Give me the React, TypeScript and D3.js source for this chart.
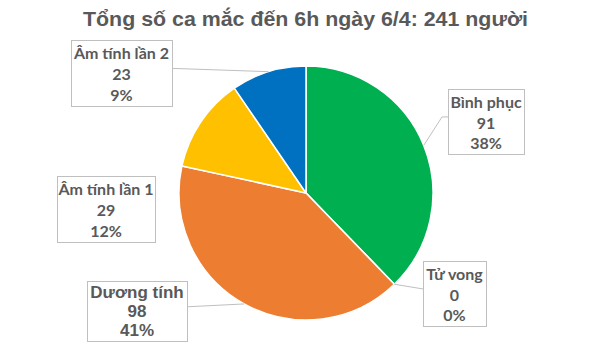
import React from 'react';
import * as d3 from 'd3';

const categories = ['Bình phục', 'Tử vong', 'Dương tính', 'Âm tính lần 1', 'Âm tính lần 2'];
const values = [91, 0, 98, 29, 23];
const percentLabels = ['38%', '0%', '41%', '12%', '9%'];
const colors = ['#00B050', '#A5A5A5', '#ED7D31', '#FFC000', '#0070C0'];
const title = 'Tổng số ca mắc đến 6h ngày 6/4: 241 người';

// label box layout (x, y, w, h), leader: side of the box it attaches to, elbow
const boxes = [
  { x: 448, y: 89, w: 76, h: 65, font: 'Lato', size: 16, leader: 'left', elbow: 6 },
  { x: 423, y: 261, w: 63, h: 65, font: 'Lato', size: 16, leader: 'left', elbow: 0 },
  { x: 87, y: 281, w: 100, h: 60, font: 'Liberation Sans', size: 17, leader: 'right', elbow: 0 },
  { x: 57, y: 176, w: 98, h: 66, font: 'Lato', size: 16, leader: null, elbow: 0 },
  { x: 71, y: 40, w: 101, h: 66, font: 'Lato', size: 16, leader: 'right', elbow: 0 },
];

const cx = 306;
const cy = 193;
const radius = 127;

export default function App() {
  const pie = d3.pie<number>().sort(null).value(d => d);
  const arcs = pie(values);
  const arc = d3.arc<d3.PieArcDatum<number>>().innerRadius(0).outerRadius(radius);

  return (
    <svg width={600} height={354} style={{ display: 'block', position: 'absolute', left: 0, top: 0 }}>
      <rect width={600} height={354} fill="#fff" />
      <text x={83} y={26} fontFamily="Liberation Sans, Arial" fontWeight="bold"
        fontSize={21} fill="#595959" textLength={445} lengthAdjust="spacingAndGlyphs">{title}</text>

      <g transform={`translate(${cx},${cy})`}>
        {arcs.map((a, i) => (
          <path key={i} d={arc(a) || ''} fill={colors[i]} stroke="#fff" strokeWidth={1.5} strokeLinejoin="round" />
        ))}
      </g>

      {arcs.map((a, i) => {
        const b = boxes[i];
        if (!b.leader) return null;
        const mid = (a.startAngle + a.endAngle) / 2;
        const px = cx + radius * Math.sin(mid);
        const py = cy - radius * Math.cos(mid);
        const ex = b.leader === 'left' ? b.x : b.x + b.w;
        const ey = b.y + b.h * 0.43;
        const pts = b.elbow
          ? `${px},${py} ${ex - b.elbow},${ey} ${ex},${ey}`
          : `${px},${py} ${ex},${ey}`;
        return <polyline key={'l' + i} points={pts} fill="none" stroke="#BFBFBF" strokeWidth={1} />;
      })}

      {categories.map((c, i) => {
        const b = boxes[i];
        const tx = b.x + b.w / 2;
        const lh = b.h / 3.2;
        const y0 = b.y + b.h / 2 - lh;
        return (
          <g key={'b' + i}>
            <rect x={b.x + 0.5} y={b.y + 0.5} width={b.w} height={b.h} fill="#fff" stroke="#BFBFBF" strokeWidth={1} />
            <text textAnchor="middle" fontFamily={b.font} fontWeight="bold" fontSize={b.size} fill="#595959"
              dominantBaseline="central">
              <tspan x={tx} y={y0}>{c}</tspan>
              <tspan x={tx} y={y0 + lh}>{values[i]}</tspan>
              <tspan x={tx} y={y0 + 2 * lh}>{percentLabels[i]}</tspan>
            </text>
          </g>
        );
      })}
    </svg>
  );
}
